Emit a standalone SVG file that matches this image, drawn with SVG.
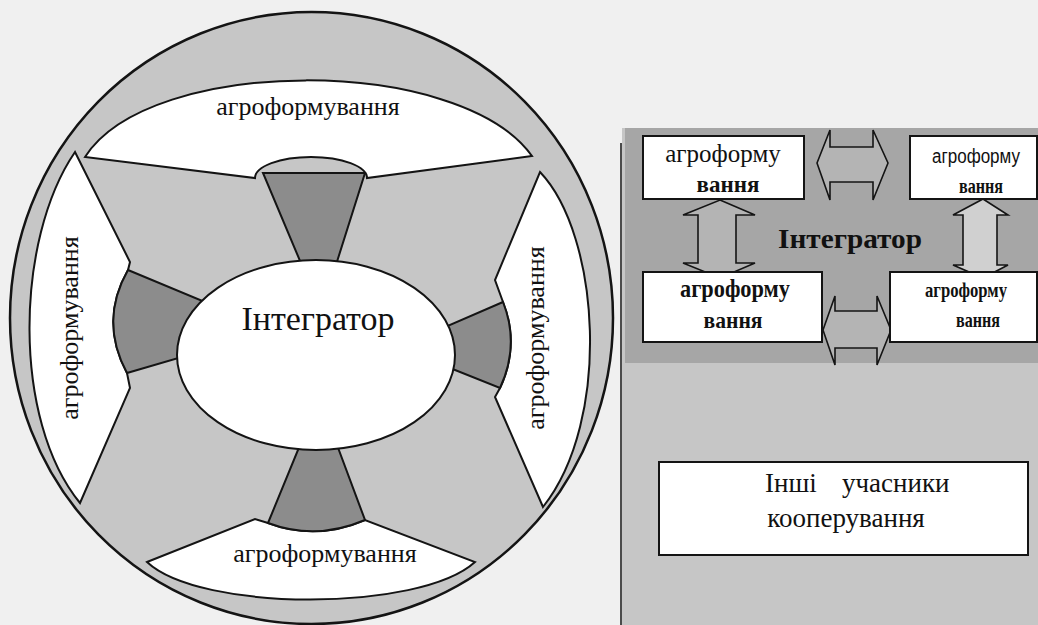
<svg xmlns="http://www.w3.org/2000/svg" width="1038" height="625" viewBox="0 0 1038 625">
<style>
.ln{stroke:#141414;stroke-width:2;stroke-linejoin:miter}
.wh{fill:#ffffff}
.dk{fill:#8c8c8c}
.ser{font-family:"Liberation Serif","Times New Roman",serif;fill:#111}
.sans{font-family:"Liberation Sans",Arial,sans-serif;fill:#111}
.b{font-weight:bold}
.arr{fill:#b4b4b4;stroke:#141414;stroke-width:1.6;stroke-linejoin:miter}
.box{fill:#ffffff;stroke:#141414;stroke-width:2}
</style>
<rect x="0" y="0" width="1038" height="625" fill="#f0f0f0"/>

<!-- LEFT DIAGRAM -->
<g id="ring">
<ellipse cx="311.5" cy="318" rx="301.5" ry="306" fill="#c6c6c6" stroke="#141414" stroke-width="2.5"/>
</g>
<g id="agro-top">
<path class="wh ln" d="M85,157 C150,55 460,55 532,156 L367,178 A56 21 0 0 0 255,178 Z"/>
<text class="ser" x="308" y="115" font-size="26" text-anchor="middle">агроформування</text>
</g>
<g id="agro-left">
<path class="wh ln" d="M75,152 C15,240 12,420 80,503 L130,388 L127,373 Q99,321 128,270 L130,262 Z"/>
<text class="ser" font-size="26" text-anchor="middle" transform="translate(78,328) rotate(-90)">агроформування</text>
</g>
<g id="agro-right">
<path class="wh ln" d="M540,172 C600,235 612,420 543,507 L495,397 L500,388 Q520,345 503,302 L495,280 Z"/>
<text class="ser" font-size="26" text-anchor="middle" transform="translate(544,338) rotate(-90)">агроформування</text>
</g>
<g id="agro-bottom">
<path class="wh ln" d="M147,562 L255,519 L268,523 Q316,541 365,520 L475,562 C420,612 200,612 147,562 Z"/>
<text class="ser" x="325" y="562" font-size="26" text-anchor="middle">агроформування</text>
</g>
<g id="links-left">
<path class="dk ln" d="M263,173 L365,173 L335,268 L303,268 Z"/>
<path class="dk ln" d="M128,270 L205,302 L182,357 L127,373 Q99,321 128,270 Z"/>
<path class="dk ln" d="M503,302 L445,327 L450,368 L500,388 Q520,345 503,302 Z"/>
<path class="dk ln" d="M300,445 L337,445 L365,520 Q316,541 268,523 Z"/>
</g>
<g id="integrator-center">
<ellipse cx="316" cy="355" rx="139" ry="95" class="wh ln"/>
<text class="ser" x="318" y="330" font-size="34" text-anchor="middle">Інтегратор</text>
</g>

<!-- RIGHT DIAGRAM -->
<g id="panel-others-bg">
<rect x="622" y="128" width="416" height="497" fill="#c6c6c6"/>
<line x1="621" y1="143" x2="621" y2="625" stroke="#141414" stroke-width="1.5"/>
</g>
<g id="integrator-panel">
<rect x="625" y="128" width="413" height="235" fill="#a6a6a6"/>
<text class="ser b" x="850" y="248" font-size="28" text-anchor="middle" textLength="144" lengthAdjust="spacingAndGlyphs">Інтегратор</text>
</g>
<g id="connectors">
<polygon class="arr" points="817,163 830,130 830,147 873,147 873,130 888,163 873,200 873,182 830,182 830,200"/>
<polygon class="arr" points="823,330 835,296 835,311 877,311 877,296 891,330 877,365 877,348 835,348 835,365"/>
<polygon class="arr" points="720,200 755,215 736,215 736,263 755,263 720,278 683,263 698,263 698,215 683,215"/>
<polygon class="arr" style="fill:#d0d0d0" points="983,199 1008,215 997,215 997,265 1008,265 983,278 953,265 963,265 963,215 953,215"/>
</g>
<g id="box-tl">
<rect class="box" x="643" y="136" width="161" height="63"/>
<text class="ser" x="723" y="162" font-size="25" text-anchor="middle">агроформу</text>
<text class="ser b" x="728" y="192" font-size="23" text-anchor="middle">вання</text>
</g>
<g id="box-tr">
<rect class="box" x="910" y="136" width="127" height="63"/>
<text class="sans" x="976" y="163" font-size="20" text-anchor="middle" textLength="88" lengthAdjust="spacingAndGlyphs">агроформу</text>
<text class="ser b" x="981" y="193" font-size="21" text-anchor="middle" textLength="44" lengthAdjust="spacingAndGlyphs">вання</text>
</g>
<g id="box-bl">
<rect class="box" x="643" y="272" width="179" height="70"/>
<text class="ser b" x="735" y="297" font-size="25" text-anchor="middle" textLength="110" lengthAdjust="spacingAndGlyphs">агроформу</text>
<text class="ser b" x="733" y="328" font-size="24" text-anchor="middle" textLength="59" lengthAdjust="spacingAndGlyphs">вання</text>
</g>
<g id="box-br">
<rect class="box" x="890" y="272" width="147" height="70"/>
<text class="ser b" x="966" y="297" font-size="22" text-anchor="middle" textLength="82" lengthAdjust="spacingAndGlyphs">агроформу</text>
<text class="ser b" x="978" y="327" font-size="21" text-anchor="middle" textLength="44" lengthAdjust="spacingAndGlyphs">вання</text>
</g>
<g id="box-others">
<rect class="box" x="659" y="462" width="369" height="93"/>
<text class="ser" y="492" font-size="27"><tspan x="765">Інші</tspan><tspan x="842">учасники</tspan></text>
<text class="ser" x="846" y="527" font-size="27" text-anchor="middle">кооперування</text>
</g>
</svg>
